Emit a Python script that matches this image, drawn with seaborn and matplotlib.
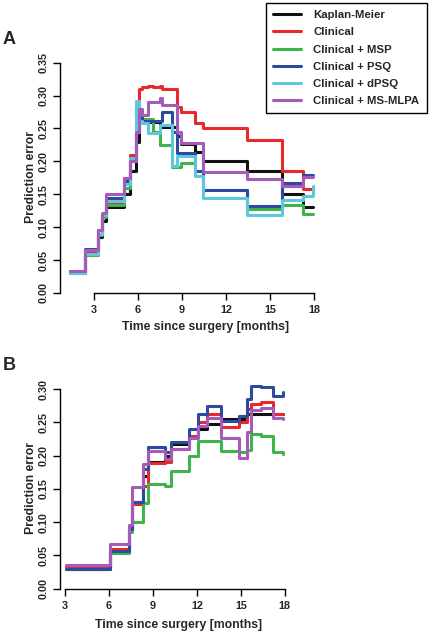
import numpy as np
import pandas as pd
import matplotlib
matplotlib.use("Agg")
import matplotlib.pyplot as plt
import seaborn as sns

# --- Data (step functions, value holds from each time on) ---
models = ['Kaplan-Meier', 'Clinical', 'Clinical + MSP', 'Clinical + PSQ',
          'Clinical + dPSQ', 'Clinical + MS-MLPA']
colors = ['#111111', '#e8282b', '#3db54a', '#2c4aa0', '#5cc8e0', '#a55bb8']

# Panel A
time_a = [1.40, 2.36, 3.27, 3.55, 3.80, 5.03, 5.45, 5.85, 6.08, 6.30, 6.70, 7.00,
          7.50, 7.65, 8.30, 8.64, 8.90, 9.85, 10.45, 13.40, 15.83, 17.27, 17.90]
km_a = [0.030, 0.060, 0.085, 0.110, 0.130, 0.150, 0.185, 0.230, 0.265, 0.262, 0.260, 0.260,
        0.252, 0.252, 0.252, 0.238, 0.226, 0.215, 0.200, 0.186, 0.150, 0.130, 0.130]
clin_a = [0.032, 0.062, 0.090, 0.120, 0.138, 0.160, 0.210, 0.250, 0.310, 0.313, 0.315, 0.313,
          0.315, 0.310, 0.310, 0.283, 0.275, 0.258, 0.250, 0.232, 0.186, 0.158, 0.158]
msp_a = [0.030, 0.057, 0.088, 0.115, 0.133, 0.160, 0.200, 0.245, 0.262, 0.265, 0.265, 0.245,
         0.225, 0.225, 0.192, 0.192, 0.198, 0.185, 0.157, 0.127, 0.133, 0.120, 0.120]
psq_a = [0.033, 0.067, 0.095, 0.120, 0.145, 0.170, 0.205, 0.250, 0.275, 0.262, 0.262, 0.262,
         0.262, 0.275, 0.245, 0.213, 0.213, 0.185, 0.157, 0.132, 0.167, 0.180, 0.180]
dpsq_a = [0.030, 0.060, 0.090, 0.118, 0.140, 0.165, 0.205, 0.291, 0.262, 0.258, 0.243, 0.243,
          0.255, 0.255, 0.193, 0.208, 0.208, 0.178, 0.145, 0.118, 0.142, 0.148, 0.162]
mlpa_a = [0.033, 0.065, 0.095, 0.122, 0.150, 0.175, 0.200, 0.245, 0.280, 0.270, 0.290, 0.290,
          0.297, 0.285, 0.285, 0.245, 0.228, 0.228, 0.184, 0.173, 0.163, 0.177, 0.177]

# Panel B (no dPSQ curve)
time_b = [3.07, 6.10, 7.40, 7.55, 8.30, 8.65, 9.80, 10.25, 11.43, 12.10, 12.70, 13.67,
          14.90, 15.40, 15.70, 16.40, 17.20, 17.85]
km_b = [0.030, 0.058, 0.090, 0.130, 0.170, 0.190, 0.200, 0.217, 0.228, 0.240, 0.248, 0.255,
        0.255, 0.262, 0.262, 0.262, 0.262, 0.262]
clin_b = [0.032, 0.060, 0.090, 0.127, 0.155, 0.189, 0.190, 0.210, 0.230, 0.250, 0.262, 0.243,
          0.250, 0.270, 0.277, 0.280, 0.262, 0.262]
msp_b = [0.030, 0.053, 0.085, 0.100, 0.128, 0.158, 0.155, 0.177, 0.200, 0.222, 0.222, 0.207,
         0.205, 0.208, 0.232, 0.229, 0.205, 0.202]
psq_b = [0.030, 0.057, 0.090, 0.130, 0.180, 0.213, 0.205, 0.220, 0.240, 0.262, 0.275, 0.252,
         0.260, 0.285, 0.305, 0.303, 0.290, 0.296]
mlpa_b = [0.035, 0.067, 0.095, 0.153, 0.187, 0.207, 0.195, 0.210, 0.227, 0.245, 0.257, 0.226,
          0.197, 0.235, 0.268, 0.272, 0.257, 0.255]


def long_df(times, series):
    frames = []
    for name, vals in series.items():
        frames.append(pd.DataFrame({'month': times, 'error': vals, 'model': name}))
    return pd.concat(frames, ignore_index=True)


df_a = long_df(time_a, dict(zip(models, [km_a, clin_a, msp_a, psq_a, dpsq_a, mlpa_a])))
models_b = [m for m in models if m != 'Clinical + dPSQ']
df_b = long_df(time_b, dict(zip(models_b, [km_b, clin_b, msp_b, psq_b, mlpa_b])))
palette = dict(zip(models, colors))

sns.set_style('white')
plt.rcParams['font.family'] = ['Liberation Sans', 'DejaVu Sans']
plt.rcParams['font.weight'] = 'bold'

fig = plt.figure(figsize=(4.32, 6.35), dpi=100)
ax_a = fig.add_axes([0.1389, 0.5386, 0.6088, 0.3679])
ax_b = fig.add_axes([0.1389, 0.0732, 0.5347, 0.3244])

LW = 2.2
sns.lineplot(data=df_a, x='month', y='error', hue='model', hue_order=models,
             palette=palette, drawstyle='steps-post', lw=LW, estimator=None,
             ax=ax_a, legend=True)
sns.lineplot(data=df_b, x='month', y='error', hue='model', hue_order=models_b,
             palette=palette, drawstyle='steps-post', lw=LW, estimator=None,
             ax=ax_b, legend=False)

handles, labels = ax_a.get_legend_handles_labels()
ax_a.get_legend().remove()
for h in handles:
    h.set_linewidth(LW)
leg = fig.legend(handles, labels, loc='upper right', bbox_to_anchor=(427 / 432, 1 - 3 / 635),
                 prop={'weight': 'bold', 'size': 8.2}, frameon=True, fancybox=False,
                 edgecolor='black', framealpha=1, handlelength=2.45, handletextpad=1.1,
                 borderpad=0.65, labelspacing=0.62, borderaxespad=0)
leg.get_frame().set_linewidth(1.0)

setups = [
    (ax_a, (0.69, 18.6), (0, 0.355), np.arange(0, 0.351, 0.05), (0.555, -0.12), (-0.088, 0.497)),
    (ax_b, (2.66, 18.42), (0, 0.31), np.arange(0, 0.301, 0.05), (0.513, -0.15), (-0.1, 0.49)),
]
for ax, xl, yl, yt, xlab, ylab in setups:
    ax.set_xlim(*xl)
    ax.set_ylim(*yl)
    ax.set_xticks([3, 6, 9, 12, 15, 18])
    ax.set_yticks(yt)
    ax.set_yticklabels([f'{v:.2f}' for v in yt])
    for s in ['top', 'right']:
        ax.spines[s].set_visible(False)
    for s in ['left', 'bottom']:
        ax.spines[s].set_linewidth(1.0)
        ax.spines[s].set_color('black')
    ax.spines['left'].set_bounds(yt[0], yt[-1])
    ax.spines['bottom'].set_bounds(3, 18)
    ax.tick_params(axis='both', direction='out', length=5, width=1.0, color='black',
                   labelsize=7.8, bottom=True, left=True)
    ax.tick_params(axis='x', pad=4)
    ax.tick_params(axis='y', pad=3)
    for lab in ax.get_yticklabels():
        lab.set_rotation(90)
        lab.set_va('center')
        lab.set_ha('right')
        lab.set_fontweight('bold')
    for lab in ax.get_xticklabels():
        lab.set_fontweight('bold')
    ax.set_xlabel('Time since surgery [months]', fontsize=8.8, fontweight='bold')
    ax.set_ylabel('Prediction error', fontsize=8.8, fontweight='bold')
    ax.xaxis.set_label_coords(*xlab)
    ax.yaxis.set_label_coords(*ylab)
    ax.grid(False)

fig.text(3 / 432, 1 - 40 / 635, 'A', fontsize=13, fontweight='bold', va='center', ha='left')
fig.text(3 / 432, 1 - 366 / 635, 'B', fontsize=13, fontweight='bold', va='center', ha='left')

fig.savefig('out.png', dpi=100)
